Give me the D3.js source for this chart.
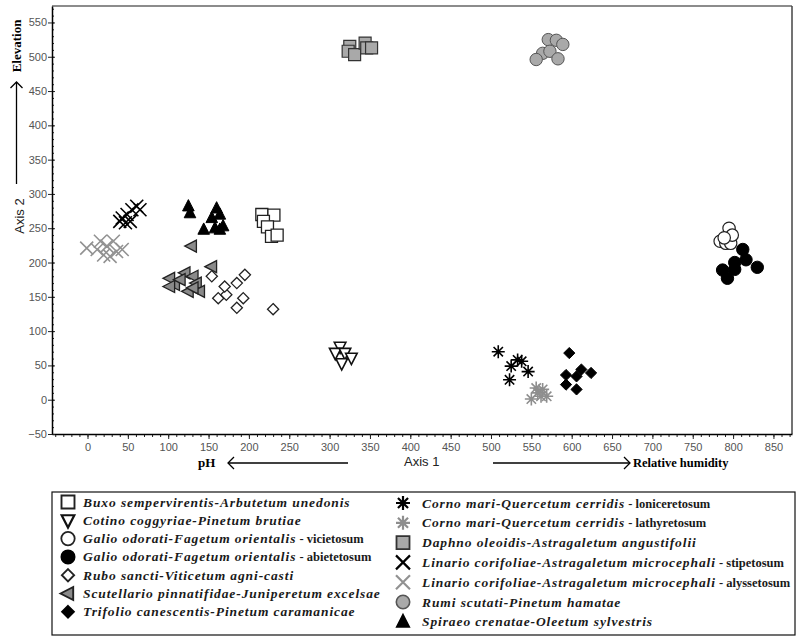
<!DOCTYPE html>
<html>
<head>
<meta charset="utf-8">
<script src="https://cdn.jsdelivr.net/npm/d3@7"></script>
<style>
body { margin: 0; background: #fff; }
.tick text { font-family: "Liberation Sans", Arial, sans-serif; font-size: 11px; fill: #555; }
.legend text { font-family: "Liberation Serif", "Times New Roman", serif; }
</style>
</head>
<body>
<svg id="chart" width="797" height="637"></svg>
<script>
// values, [axis1, axis2]
const buxo = [[216, 270], [231, 269], [218, 260], [223, 252], [228, 238], [235, 240]];
const cotino = [[313, 77], [307, 68], [319, 68], [315, 53], [327, 61]];
const galioVic = [[795, 250], [784, 231], [791, 228], [797, 228], [799, 240], [789, 236]];
const galioAbi = [[812, 219], [816, 204], [830, 193], [787, 189], [802, 190], [793, 177], [802, 200]];
const rubo = [[154, 180], [162, 148], [172, 153], [170, 165], [185, 170], [195, 182], [185, 134], [193, 148], [230, 132]];
const scutellario = [[129, 224], [154, 194], [102, 177], [108, 168], [121, 185], [131, 180], [135, 170], [125, 158], [139, 158], [115, 175], [131, 163], [102, 165]];
const trifolio = [[597, 68], [593, 36], [612, 44], [624, 39], [606, 34], [593, 22], [606, 15]];
const cornoLon = [[509, 70], [533, 58], [538, 56], [525, 49], [546, 41], [523, 29]];
const cornoLat = [[550, 1], [564, 15], [558, 10], [569, 5], [562, 5], [556, 17]];
const daphno = [[325, 515], [323, 508], [331, 503], [344, 520], [346, 513], [352, 513]];
const linarioSti = [[43, 265], [49, 270], [55, 277], [61, 282], [65, 277], [47, 258], [40, 260], [53, 260]];
const linarioAly = [[-1, 221], [16, 231], [24, 224], [32, 231], [20, 211], [36, 216], [43, 219], [28, 209], [12, 219]];
const rumi = [[571, 525], [581, 524], [589, 518], [564, 505], [556, 496], [573, 508], [583, 497]];
const spiraeo = [[125, 282], [127, 272], [160, 279], [164, 270], [154, 265], [168, 253], [158, 250], [144, 248], [164, 248]];

const leftNames = [
  ["Buxo sempervirentis-Arbutetum unedonis", ""],
  ["Cotino coggyriae-Pinetum brutiae", ""],
  ["Galio odorati-Fagetum orientalis", "vicietosum"],
  ["Galio odorati-Fagetum orientalis", "abietetosum"],
  ["Rubo sancti-Viticetum agni-casti", ""],
  ["Scutellario pinnatifidae-Juniperetum excelsae", ""],
  ["Trifolio canescentis-Pinetum caramanicae", ""]
];
const rightNames = [
  ["Corno mari-Quercetum cerridis", "loniceretosum"],
  ["Corno mari-Quercetum cerridis", "lathyretosum"],
  ["Daphno oleoidis-Astragaletum angustifolii", ""],
  ["Linario corifoliae-Astragaletum microcephali", "stipetosum"],
  ["Linario corifoliae-Astragaletum microcephali", "alyssetosum"],
  ["Rumi scutati-Pinetum hamatae", ""],
  ["Spiraeo crenatae-Oleetum sylvestris", ""]
];

const xTicks = d3.range(0, 851, 50);
const yTicks = d3.range(-50, 551, 50);

// marker styles
const GRAY = "#a9a9a9";
const styles = {
  buxo:        {shape: "square", fill: "#fff", stroke: "#222", w: 1.3},
  cotino:      {shape: "down", fill: "#fff", stroke: "#111", w: 1.6},
  galioVic:    {shape: "circle", fill: "#fff", stroke: "#222", w: 1.2},
  galioAbi:    {shape: "circle", fill: "#000", stroke: "#000", w: 1},
  rubo:        {shape: "diamond", fill: "#fff", stroke: "#222", w: 1.3},
  scutellario: {shape: "left", fill: "#8a8a8a", stroke: "#222", w: 1.3},
  trifolio:    {shape: "diamond", fill: "#000", stroke: "#000", w: 1},
  cornoLon:    {shape: "star", fill: "none", stroke: "#000", w: 1.6},
  cornoLat:    {shape: "star", fill: "none", stroke: "#8e8e8e", w: 1.6},
  daphno:      {shape: "square", fill: GRAY, stroke: "#333", w: 1.2},
  linarioSti:  {shape: "x", fill: "none", stroke: "#000", w: 1.6},
  linarioAly:  {shape: "x", fill: "none", stroke: "#929292", w: 1.6},
  rumi:        {shape: "circle", fill: GRAY, stroke: "#555", w: 1},
  spiraeo:     {shape: "up", fill: "#000", stroke: "#000", w: 1}
};

const series = [
  ["rumi", rumi], ["daphno", daphno], ["buxo", buxo], ["cotino", cotino],
  ["galioVic", galioVic], ["galioAbi", galioAbi], ["rubo", rubo],
  ["scutellario", scutellario], ["trifolio", trifolio], ["cornoLat", cornoLat],
  ["cornoLon", cornoLon], ["linarioAly", linarioAly], ["linarioSti", linarioSti],
  ["spiraeo", spiraeo]
];

function shapePath(shape, s) {
  if (shape == "square") return `M${-s},${-s}h${2*s}v${2*s}h${-2*s}Z`;
  if (shape == "circle") return `M${s},0A${s},${s} 0 1,1 ${-s},0A${s},${s} 0 1,1 ${s},0Z`;
  if (shape == "up") return `M0,${-s*1.15}L${s},${s*0.8}L${-s},${s*0.8}Z`;
  if (shape == "down") return `M${-s},${-s*0.8}L${s},${-s*0.8}L0,${s*1.15}Z`;
  if (shape == "left") return `M${-s*1.15},0L${s*0.8},${-s}L${s*0.8},${s}Z`;
  if (shape == "diamond") return `M0,${-s}L${s},0L0,${s}L${-s},0Z`;
  if (shape == "x") return `M${-s},${-s}L${s},${s}M${-s},${s}L${s},${-s}`;
  if (shape == "star") {
    let d = s * 0.72;
    return `M0,${-s}V${s}M${-s},0H${s}M${-d},${-d}L${d},${d}M${-d},${d}L${d},${-d}`;
  }
}
const markerSize = {square: 6, circle: 6.2, up: 5.8, down: 5.8, left: 6, diamond: 5.6, x: 6.5, star: 6.5};

const svg = d3.select("#chart");
const margin = {left: 52, right: 5, top: 6, bottom: 203};
const width = 797 - margin.left - margin.right;
const height = 637 - margin.top - margin.bottom;

const x = d3.scaleLinear().domain([-44, 873]).range([margin.left, margin.left + width]);
const y = d3.scaleLinear().domain([-50, 574]).range([margin.top + height, margin.top]);

// frame: top and right borders
svg.append("line").attr("x1", margin.left).attr("x2", margin.left + width)
  .attr("y1", margin.top).attr("y2", margin.top)
  .attr("stroke", "#8c8c8c").attr("stroke-width", 2);
svg.append("line").attr("x1", margin.left + width).attr("x2", margin.left + width)
  .attr("y1", margin.top).attr("y2", margin.top + height)
  .attr("stroke", "#444").attr("stroke-width", 1.5);

// x axis
let gx = svg.append("g").attr("transform", `translate(0,${margin.top + height})`);
gx.append("g").call(d3.axisBottom(x).tickValues(d3.range(-40, 871, 10)).tickSize(3).tickFormat(""))
  .call(g => g.select(".domain").remove());
gx.append("g").call(d3.axisBottom(x).tickValues(xTicks).tickSize(5).tickPadding(4).tickSizeOuter(0))
  .call(g => g.select(".domain").attr("stroke-width", 1.5));

// y axis
let gy = svg.append("g").attr("transform", `translate(${margin.left},0)`);
gy.append("g").call(d3.axisRight(y).tickValues(d3.range(-50, 571, 10)).tickSize(2).tickFormat(""))
  .call(g => g.select(".domain").remove());
gy.append("g").call(d3.axisRight(y).tickValues(yTicks).tickSize(3).tickFormat(""))
  .call(g => g.select(".domain").remove());
gy.append("g").call(d3.axisLeft(y).tickValues(yTicks).tickSize(4).tickPadding(1).tickSizeOuter(0))
  .call(g => g.select(".domain").attr("stroke-width", 1.5));
svg.selectAll(".tick line").attr("stroke", "#222");
svg.selectAll(".tick text").attr("fill", "#555");

// markers
series.forEach(([key, pts]) => {
  let st = styles[key];
  svg.append("g").selectAll("path").data(pts).join("path")
    .attr("transform", d => `translate(${x(d[0])},${y(d[1])})`)
    .attr("d", shapePath(st.shape, markerSize[st.shape]))
    .attr("fill", st.fill)
    .attr("stroke", st.stroke)
    .attr("stroke-width", st.w);
});

// axis titles and direction arrows
function arrowHead(g, x0, y0, dir) {
  let a = 6;
  let d = dir == "left" ? `M${x0 + a},${y0 - a}L${x0},${y0}L${x0 + a},${y0 + a}`
        : dir == "right" ? `M${x0 - a},${y0 - a}L${x0},${y0}L${x0 - a},${y0 + a}`
        : `M${x0 - a},${y0 + a}L${x0},${y0}L${x0 + a},${y0 + a}`;
  g.append("path").attr("d", d).attr("fill", "none").attr("stroke", "#000").attr("stroke-width", 1.3);
}
let ann = svg.append("g");
ann.append("text").attr("x", 404).attr("y", 466)
  .attr("font-family", "Liberation Sans, Arial, sans-serif").attr("font-size", 13).attr("fill", "#222")
  .text("Axis 1");
ann.append("text").attr("transform", "translate(24,216) rotate(-90)").attr("text-anchor", "middle")
  .attr("font-family", "Liberation Sans, Arial, sans-serif").attr("font-size", 13).attr("fill", "#222")
  .text("Axis 2");

ann.append("text").attr("x", 198).attr("y", 467)
  .attr("font-family", "Liberation Serif, serif").attr("font-weight", "bold").attr("font-size", 13)
  .text("pH");
ann.append("line").attr("x1", 348).attr("x2", 228).attr("y1", 463).attr("y2", 463).attr("stroke", "#000").attr("stroke-width", 1.3);
arrowHead(ann, 228, 463, "left");

ann.append("line").attr("x1", 493).attr("x2", 630).attr("y1", 463).attr("y2", 463).attr("stroke", "#000").attr("stroke-width", 1.3);
arrowHead(ann, 630, 463, "right");
ann.append("text").attr("x", 633).attr("y", 467)
  .attr("font-family", "Liberation Serif, serif").attr("font-weight", "bold").attr("font-size", 12.5)
  .text("Relative humidity");

ann.append("text").attr("transform", "translate(21,46) rotate(-90)").attr("text-anchor", "middle")
  .attr("font-family", "Liberation Serif, serif").attr("font-weight", "bold").attr("font-size", 13)
  .text("Elevation");
ann.append("line").attr("x1", 16.5).attr("x2", 16.5).attr("y1", 184).attr("y2", 82).attr("stroke", "#000").attr("stroke-width", 1.3);
arrowHead(ann, 16.5, 82, "up");

// legend
let lg = svg.append("g").attr("class", "legend");
lg.append("rect").attr("x", 52).attr("y", 492).attr("width", 743).attr("height", 143)
  .attr("fill", "none").attr("stroke", "#111").attr("stroke-width", 1.2);

const leftKeys = ["buxo", "cotino", "galioVic", "galioAbi", "rubo", "scutellario", "trifolio"];
const rightKeys = ["cornoLon", "cornoLat", "daphno", "linarioSti", "linarioAly", "rumi", "spiraeo"];

function legendColumn(keys, names, sx, tx, y0, step) {
  keys.forEach((k, i) => {
    let st = styles[k];
    let yy = y0 + i * step;
    let s = markerSize[st.shape] + 0.5;
    lg.append("path").attr("transform", `translate(${sx},${yy})`)
      .attr("d", shapePath(st.shape, s))
      .attr("fill", st.fill).attr("stroke", st.stroke).attr("stroke-width", st.w + 0.6);
    let t = lg.append("text").attr("x", tx).attr("y", yy + 4.5).attr("fill", "#1a1a1a");
    t.append("tspan").attr("font-weight", "bold").attr("font-style", "italic")
      .attr("font-size", 13.5).attr("letter-spacing", 0.9).text(names[i][0]);
    if (names[i][1]) {
      t.append("tspan").attr("font-weight", "bold").attr("font-size", 12.5)
        .text(" - " + names[i][1]);
    }
  });
}
legendColumn(leftKeys, leftNames, 68, 83, 502, 18.3);
legendColumn(rightKeys, rightNames, 403, 422, 503, 19.8);
</script>
</body>
</html>
